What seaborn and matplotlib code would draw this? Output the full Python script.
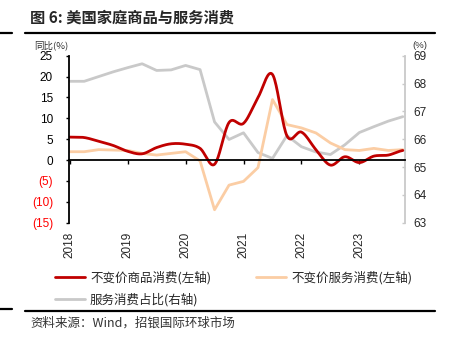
import numpy as np
import pandas as pd
import matplotlib
matplotlib.use("Agg")
import matplotlib.pyplot as plt
import seaborn as sns
from matplotlib.lines import Line2D
import matplotlib.transforms as mtransforms

sns.set_theme(style="white")
plt.rcParams['font.family'] = ['Liberation Sans', 'Noto Sans CJK SC', 'DejaVu Sans']
plt.rcParams['axes.unicode_minus'] = False

# ---- data (quarterly, 2018Q1 .. 2023Q4) ----
quarters = list(range(24))
goods_yoy = [5.5, 5.4, 4.5, 3.5, 2.1, 1.5, 3.0, 3.9, 3.8, 2.8, -1.0, 9.0,
             8.8, 15.0, 20.5, 5.8, 6.7, 2.5, -1.2, 0.8, -0.6, 0.95, 1.2, 2.3]
services_yoy = [2.0, 2.0, 2.5, 2.4, 2.3, 1.6, 1.2, 1.6, 2.0, -0.2, -11.9, -6.0,
                -5.1, -1.8, 14.5, 8.5, 7.7, 6.5, 4.1, 2.5, 2.3, 2.8, 2.3, 2.5]
services_share = [68.08, 68.08, 68.25, 68.42, 68.57, 68.71, 68.47, 68.49, 68.65, 68.5,
                  66.62, 65.99, 66.23, 65.52, 65.31, 66.13, 65.73, 65.54, 65.45, 65.8,
                  66.24, 66.45, 66.65, 66.81]
year_labels = ["2018", "2019", "2020", "2021", "2022", "2023"]
year_pos = [0, 4, 8, 12, 16, 20]
left_ticks = [25, 20, 15, 10, 5, 0, -5, -10, -15]
right_ticks = [63, 64, 65, 66, 67, 68, 69]

RED = "#C00000"
ORANGE = "#FBCDA4"
GRAY = "#C9C9C9"
CJK = ['Noto Sans CJK SC', 'DejaVu Sans']


def catmull_rom(x, y, n=20):
    x = np.asarray(x, float)
    y = np.asarray(y, float)
    yp = np.concatenate([[y[0]], y, [y[-1]]])
    xs, ys = [], []
    for i in range(len(x) - 1):
        p0, p1, p2, p3 = yp[i], yp[i + 1], yp[i + 2], yp[i + 3]
        t = np.linspace(0, 1, n, endpoint=False)
        v = 0.5 * ((2 * p1) + (-p0 + p2) * t + (2 * p0 - 5 * p1 + 4 * p2 - p3) * t ** 2
                   + (-p0 + 3 * p1 - 3 * p2 + p3) * t ** 3)
        xs.append(x[i] + t * (x[i + 1] - x[i]))
        ys.append(v)
    xs.append([x[-1]])
    ys.append([y[-1]])
    return np.concatenate(xs), np.concatenate(ys)


fig = plt.figure(figsize=(4.5, 3.44), dpi=100)
ax = fig.add_axes([69 / 450, 1 - 222.7 / 344, (405 - 69) / 450, (222.7 - 55.7) / 344])
ax2 = ax.twinx()

df = pd.DataFrame({"q": quarters, "goods": goods_yoy, "services": services_yoy,
                   "share": services_share})
sx, sy = catmull_rom(quarters, goods_yoy)
smooth = pd.DataFrame({"q": sx, "goods": sy})

sns.lineplot(data=df, x="q", y="share", ax=ax2, color=GRAY, lw=2)
sns.lineplot(data=df, x="q", y="services", ax=ax, color=ORANGE, lw=2)
sns.lineplot(data=smooth, x="q", y="goods", ax=ax, color=RED, lw=2)

ax.set_zorder(ax2.get_zorder() + 1)
ax.patch.set_visible(False)

ax.set_xlim(-0.05, 23.15)
ax.set_ylim(-15, 25)
ax2.set_ylim(63, 69)

ax.set_xlabel("")
ax.set_ylabel("")
ax2.set_xlabel("")
ax2.set_ylabel("")

# left axis
ax.set_yticks(left_ticks)
labels = [str(v) if v >= 0 else "(%d)" % abs(v) for v in left_ticks]
ax.set_yticklabels(labels, fontsize=8.5)
for lab, v in zip(ax.get_yticklabels(), left_ticks):
    lab.set_color("red" if v < 0 else "black")
ax.tick_params(axis="y", direction="out", length=2.5, width=1, color="black", pad=9, left=True)

# bottom axis at zero
ax.spines["bottom"].set_position(("data", 0))
ax.spines["bottom"].set_color("black")
ax.spines["bottom"].set_linewidth(1.3)
ax.spines["left"].set_color("black")
ax.spines["left"].set_linewidth(1.3)
ax.spines["top"].set_visible(False)
ax.spines["right"].set_visible(False)
ax.set_xticks(year_pos)
ax.set_xticklabels([])
ax.tick_params(axis="x", direction="out", length=3, width=1, color="black", bottom=True)
trans = mtransforms.blended_transform_factory(ax.transData, ax.transAxes)
for p, lab in zip(year_pos, year_labels):
    ax.text(p, -0.055, lab, rotation=90, ha="center", va="top", fontsize=8.5,
            transform=trans)

# right axis
for s in ["left", "top", "bottom"]:
    ax2.spines[s].set_visible(False)
ax2.spines["right"].set_color(GRAY)
ax2.spines["right"].set_linewidth(1.3)
ax2.set_yticks(right_ticks)
ax2.set_yticklabels([str(v) for v in right_ticks], fontsize=8.5)
ax2.tick_params(axis="y", direction="in", length=2.5, width=1, color=GRAY, pad=6, right=True)

# axis unit labels
fig.text(34 / 450, 1 - 45 / 344, "同比(%)", fontsize=6.8, ha="left", va="center",
         family=CJK, color="#333333")
fig.text(420 / 450, 1 - 45 / 344, "(%)", fontsize=6.8, ha="center", va="center",
         color="#333333")

# title and rules
fig.text(30 / 450, 1 - 18 / 344, "图 6: 美国家庭商品与服务消费", fontsize=11, fontweight="bold",
         ha="left", va="center", family=CJK)
fig.add_artist(Line2D([25 / 450, 435 / 450], [1 - 32.5 / 344] * 2, color="black", lw=1.6))
fig.add_artist(Line2D([0, 12 / 450], [1 - 32.5 / 344] * 2, color="black", lw=1.6))
fig.add_artist(Line2D([25 / 450, 435 / 450], [1 - 310.5 / 344] * 2, color="black", lw=1.6))
fig.add_artist(Line2D([0, 12 / 450], [1 - 309 / 344] * 2, color="black", lw=1.6))

fig.text(30 / 450, 1 - 323 / 344, "资料来源：Wind，招银国际环球市场", fontsize=9,
         ha="left", va="center", family=CJK, color="#333333")

# legend
handles = [Line2D([], [], color=RED, lw=2), Line2D([], [], color=GRAY, lw=2),
           Line2D([], [], color=ORANGE, lw=2)]
names = ["不变价商品消费(左轴)", "服务消费占比(右轴)", "不变价服务消费(左轴)"]
leg = fig.legend(handles, names, ncol=2, loc="upper left",
                 bbox_to_anchor=(50 / 450, 1 - 266 / 344), frameon=False,
                 prop={"family": CJK, "size": 9},
                 handlelength=2.4, handletextpad=0.4, columnspacing=3.6, labelspacing=0.7,
                 borderaxespad=0)

fig.savefig("out.png", dpi=100)
